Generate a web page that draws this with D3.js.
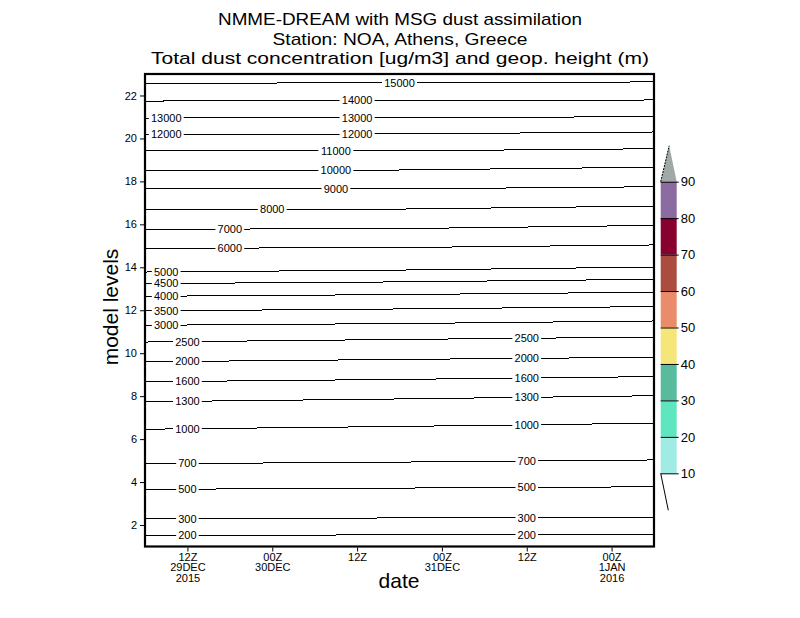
<!DOCTYPE html>
<html>
<head>
<meta charset="utf-8">
<script src="https://cdn.jsdelivr.net/npm/d3@7"></script>
<style>
  html, body { margin: 0; padding: 0; background: #fff; }
  svg { display: block; }
</style>
</head>
<body>
<div id="chart"></div>
<script>
// Geopotential height contours (m)
const heights = [200, 300, 500, 700, 1000, 1300, 1600, 2000, 2500, 3000, 3500, 4000,
  4500, 5000, 6000, 7000, 8000, 9000, 10000, 11000, 12000, 13000, 14000, 15000];

// Model level of each contour, read at 06Z 29DEC, 18Z 30DEC and 06Z 1JAN
const levelsStart = [1.52, 2.29, 3.66, 4.85, 6.46, 7.74, 8.67, 9.60, 10.52, 11.30, 11.97, 12.65,
  13.24, 13.78, 14.88, 15.77, 16.70, 17.65, 18.53, 19.42, 20.19, 20.95, 21.74, 22.56];
const levelsMid = [1.54, 2.33, 3.72, 4.93, 6.59, 7.87, 8.78, 9.71, 10.64, 11.38, 12.06, 12.73,
  13.32, 13.87, 14.92, 15.80, 16.71, 17.65, 18.53, 19.42, 20.21, 20.97, 21.77, 22.60];
const levelsEnd = [1.57, 2.36, 3.78, 5.03, 6.74, 8.02, 8.91, 9.81, 10.75, 11.50, 12.17, 12.84,
  13.44, 14.01, 15.04, 15.95, 16.85, 17.75, 18.66, 19.52, 20.30, 21.01, 21.79, 22.63];

// Hours after 06Z 29DEC where each contour carries a label
const labelHours = [[6, 54], [6, 54], [6, 54], [6, 54], [6, 54], [6, 54], [6, 54], [6, 54], [6, 54],
  [3], [3], [3], [3], [3], [12], [12], [18], [27], [27], [27], [3, 30], [3, 30], [30], [36]];

const sampleTimes = [
  new Date(Date.UTC(2015, 11, 29, 6)),
  new Date(Date.UTC(2015, 11, 30, 18)),
  new Date(Date.UTC(2016, 0, 1, 6))
];

// Time axis ticks (every 12 h) and their labels
const timeTicks = [
  new Date(Date.UTC(2015, 11, 29, 12)),
  new Date(Date.UTC(2015, 11, 30, 0)),
  new Date(Date.UTC(2015, 11, 30, 12)),
  new Date(Date.UTC(2015, 11, 31, 0)),
  new Date(Date.UTC(2015, 11, 31, 12)),
  new Date(Date.UTC(2016, 0, 1, 0))
];
const timeTickLabels = [
  ['12Z', '29DEC', '2015'],
  ['00Z', '30DEC'],
  ['12Z'],
  ['00Z', '31DEC'],
  ['12Z'],
  ['00Z', '1JAN', '2016']
];

const levelTicks = [2, 4, 6, 8, 10, 12, 14, 16, 18, 20, 22];

// Dust concentration legend (ug/m3)
const dustBreaks = [10, 20, 30, 40, 50, 60, 70, 80, 90];
const dustColors = ['#a0ebe4', '#5ee6c0', '#58bc9c', '#f6e67a', '#ea8c6a', '#ab4c40', '#870030', '#8c6ca0'];
const dustTopColor = '#a0a8a8';

const titleLines = [
  'NMME-DREAM with MSG dust assimilation',
  'Station: NOA, Athens, Greece',
  'Total dust concentration [ug/m3] and geop. height (m)'
];

const width = 800;
const height = 618;
const plot = { left: 145, right: 654, top: 74, bottom: 546.5 };
const labelFont = '"Liberation Sans", Arial, sans-serif';

const svg = d3.select('#chart')
  .append('svg')
  .attr('width', width)
  .attr('height', height)
  .attr('viewBox', `0 0 ${width} ${height}`);

const x = d3.scaleUtc()
  .domain([sampleTimes[0], sampleTimes[2]])
  .range([plot.left, plot.right]);

const y = d3.scaleLinear()
  .domain([1, 23])
  .range([plot.bottom, plot.top]);

// Titles
const titleWidths = [364, 255, 498];
svg.append('g')
  .selectAll('text')
  .data(titleLines)
  .join('text')
  .attr('x', (d, i) => 400 - titleWidths[i] / 2)
  .attr('y', (d, i) => 25 + i * 19.5)
  .attr('textLength', (d, i) => titleWidths[i])
  .attr('lengthAdjust', 'spacingAndGlyphs')
  .style('font-family', labelFont)
  .style('font-size', '17px')
  .text((d) => d);

// Contour lines
const line = d3.line()
  .x((d) => x(d.time))
  .y((d) => y(d.level));

const contours = heights.map((h, i) => ({
  height: h,
  points: [levelsStart[i], levelsMid[i], levelsEnd[i]].map((level, j) => ({ time: sampleTimes[j], level })),
  labels: labelHours[i]
}));

const levelAt = (c, time) => {
  const interp = d3.scaleUtc().domain(sampleTimes).range(c.points.map((p) => p.level));
  return interp(time);
};

const contourGroup = svg.append('g').attr('class', 'contours');

contourGroup.selectAll('path')
  .data(contours)
  .join('path')
  .attr('d', (d) => line(d.points))
  .attr('fill', 'none')
  .attr('stroke', '#000')
  .attr('stroke-width', 1)
  .style('shape-rendering', 'crispEdges');

// Contour labels, with a gap cut into the line
const labelData = contours.flatMap((c) => c.labels.map((h) => {
  const time = new Date(sampleTimes[0].getTime() + h * 3600e3);
  return { text: String(c.height), time, level: levelAt(c, time) };
}));

const labels = contourGroup.selectAll('g.clabel')
  .data(labelData)
  .join('g')
  .attr('class', 'clabel')
  .attr('transform', (d) => `translate(${x(d.time)},${y(d.level)})`);

labels.append('rect')
  .attr('x', (d) => -d.text.length * 3.1 - 2)
  .attr('y', -5)
  .attr('width', (d) => d.text.length * 6.2 + 4)
  .attr('height', 10)
  .attr('fill', '#fff');

labels.append('text')
  .attr('text-anchor', 'middle')
  .attr('dy', '0.36em')
  .style('font-family', labelFont)
  .style('font-size', '11px')
  .text((d) => d.text);

// Frame
svg.append('rect')
  .attr('x', plot.left)
  .attr('y', plot.top)
  .attr('width', plot.right - plot.left)
  .attr('height', plot.bottom - plot.top)
  .attr('fill', 'none')
  .attr('stroke', '#000')
  .attr('stroke-width', 2.2);

// Y axis
const yAxis = svg.append('g')
  .attr('transform', `translate(${plot.left - 1},0)`)
  .call(d3.axisLeft(y).tickValues(levelTicks).tickSize(4).tickPadding(3));
yAxis.select('.domain').remove();
yAxis.selectAll('text')
  .style('font-family', labelFont)
  .style('font-size', '11px');

// X axis with stacked date labels
const xAxis = svg.append('g')
  .attr('transform', `translate(0,${plot.bottom + 1})`)
  .call(d3.axisBottom(x).tickValues(timeTicks).tickSize(4).tickFormat(''));
xAxis.select('.domain').remove();
xAxis.selectAll('.tick')
  .each(function (d, i) {
    d3.select(this).append('text')
      .attr('fill', '#000')
      .attr('text-anchor', 'middle')
      .style('font-family', labelFont)
      .style('font-size', '11px')
      .selectAll('tspan')
      .data(timeTickLabels[i])
      .join('tspan')
      .attr('x', 0)
      .attr('y', (t, k) => 13 + k * 10.5)
      .text((t) => t);
  });

// Axis titles
svg.append('text')
  .attr('x', 399)
  .attr('y', 588)
  .attr('text-anchor', 'middle')
  .style('font-family', labelFont)
  .style('font-size', '21px')
  .text('date');

svg.append('text')
  .attr('transform', 'translate(118,307) rotate(-90)')
  .attr('text-anchor', 'middle')
  .style('font-family', labelFont)
  .style('font-size', '21px')
  .text('model levels');

// Colour bar
const bar = { left: 660.7, right: 676.7 };
const c = d3.scaleLinear()
  .domain([10, 90])
  .range([473.3, 181.7]);

const barGroup = svg.append('g').attr('class', 'colorbar');

barGroup.selectAll('rect')
  .data(dustColors)
  .join('rect')
  .attr('x', bar.left)
  .attr('y', (d, i) => c(dustBreaks[i + 1]))
  .attr('width', bar.right - bar.left)
  .attr('height', (d, i) => c(dustBreaks[i]) - c(dustBreaks[i + 1]))
  .attr('fill', (d) => d);

// Upper open-ended triangle
barGroup.append('path')
  .attr('d', `M${bar.left},${c(90)}L${(bar.left + bar.right) / 2 + 0.5},${c(90) - 36}L${bar.right},${c(90)}Z`)
  .attr('fill', dustTopColor);
barGroup.append('line')
  .attr('x1', bar.left).attr('y1', c(90))
  .attr('x2', (bar.left + bar.right) / 2 + 0.5).attr('y2', c(90) - 36)
  .attr('stroke', '#000')
  .attr('stroke-dasharray', '2,1');

// Lower triangle is left unfilled
barGroup.append('line')
  .attr('x1', bar.left).attr('y1', c(10))
  .attr('x2', 668.3).attr('y2', c(10) + 37)
  .attr('stroke', '#000');

const barAxis = barGroup.append('g')
  .attr('transform', `translate(${bar.left},0)`)
  .call(d3.axisRight(c).tickValues(dustBreaks).tickSize(bar.right - bar.left + 2).tickPadding(2));
barAxis.select('.domain').remove();
barAxis.selectAll('text')
  .style('font-family', labelFont)
  .style('font-size', '13px');
</script>
</body>
</html>
